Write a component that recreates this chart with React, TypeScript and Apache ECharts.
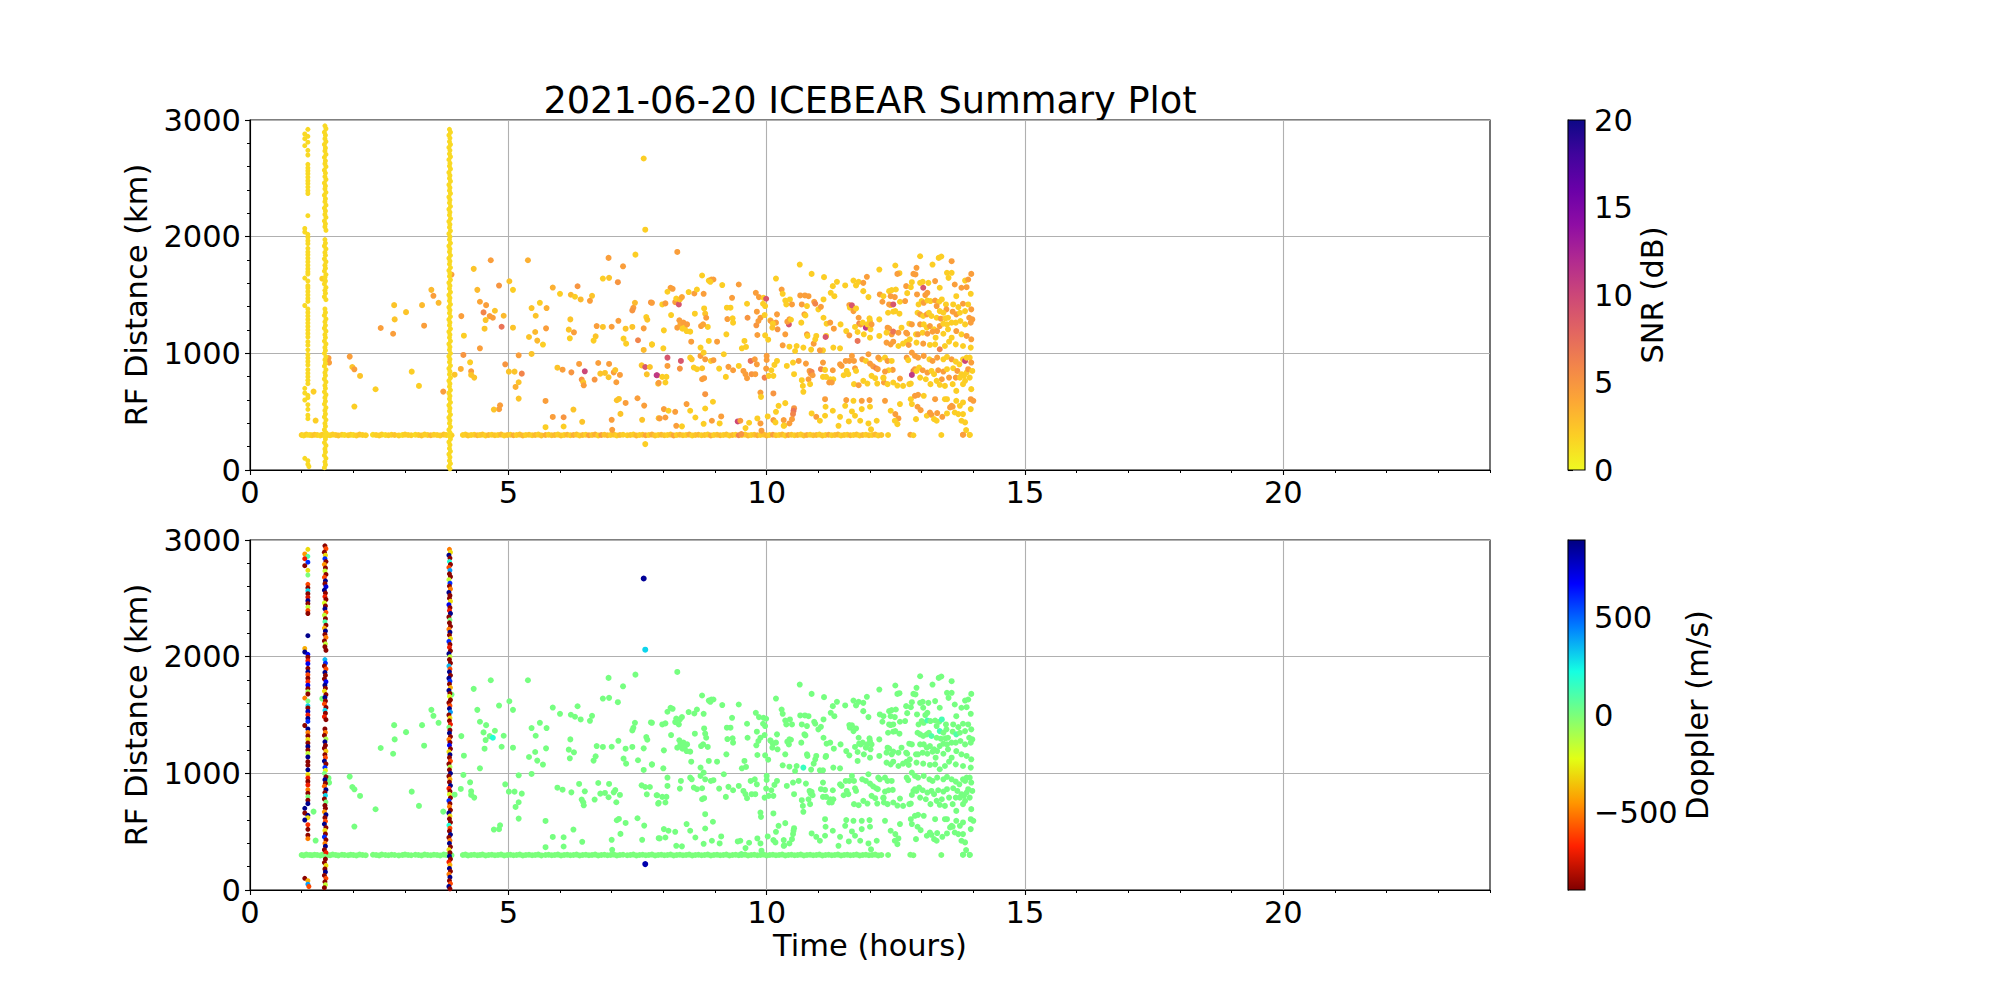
import React, { useEffect, useRef } from 'react';
import * as echarts from 'echarts';

const TITLE = '2021-06-20 ICEBEAR Summary Plot';
const X_LABEL = 'Time (hours)';
const Y_LABEL = 'RF Distance (km)';
const SNR_LABEL = 'SNR (dB)';
const DOP_LABEL = 'Doppler (m/s)';
const X_MAJOR_TICKS = [0, 5, 10, 15, 20];
const SNR_RANGE = [0, 20];
const DOP_RANGE = [-900, 900];
const DOP_TICKS = [-500, 0, 500];

// matplotlib plasma_r (0 -> 20 dB)
const PLASMA_R = ['#f0f921', '#fcce25', '#fca636', '#f2844b', '#e16462', '#cc4778', '#b12a90', '#8f0da4', '#6a00a8', '#41049d', '#0d0887'];
// matplotlib jet_r (-900 -> +900 m/s)
const JET_R = ['#800000', '#ff2100', '#ff9700', '#e2ff15', '#7bff7b', '#15ffe2', '#0080ff', '#0000ff', '#000080'];

const LINE_DOPPLER = 0;
const CLOUD_DOPPLER = 10;
const VERT_SNR = 1.5;

// ~300 km echo line: [time h, distance km, snr dB]
const LINE_300: number[][] = [
  [1.00,300,2],[1.04,296,1.5],[1.09,304,2],[1.16,300,1.5],[1.20,298,2],[1.25,302,2.5],[1.30,300,2],[1.36,296,1.5],
  [1.40,302,2],[1.50,300,2],[1.55,298,1.5],[1.60,304,2],[1.66,300,2],[1.71,296,2.5],[1.78,302,2],[1.83,300,1.5],
  [1.90,298,2],[1.95,302,2],[2.00,300,1.5],[2.06,296,2],[2.12,304,2.5],[2.18,300,2],[2.24,298,2],[2.38,302,1.5],
  [2.44,300,2],[2.50,296,2],[2.55,304,2],[2.62,300,1.5],[2.68,298,2],[2.74,302,2],[2.80,300,2.5],[2.88,296,2],
  [2.95,300,1.5],[3.00,304,2],[3.06,300,2],[3.12,298,2],[3.20,302,1.5],[3.26,300,2],[3.32,296,2.5],[3.38,304,2],
  [3.44,300,2],[3.50,298,3],[3.56,302,2],[3.62,300,2],[3.68,296,2],[3.75,304,2.5],[3.80,300,2],[3.90,298,2],
  [4.12,300,2],[4.17,304,2],[4.22,296,2.5],[4.28,300,2],[4.34,302,2],[4.40,298,3],[4.45,300,2],[4.50,304,2.5],
  [4.56,296,2],[4.62,300,3],[4.68,302,2],[4.74,298,2.5],[4.80,300,2],[4.86,304,3],[4.92,296,2],[4.98,300,2.5],
  [5.04,302,2],[5.10,298,3.5],[5.16,300,2],[5.22,304,2.5],[5.28,296,3],[5.34,300,2],[5.40,302,2.5],[5.46,298,2],
  [5.52,300,3],[5.58,304,2],[5.64,296,2.5],[5.72,300,3.5],[5.78,302,2],[5.84,298,2.5],[5.90,300,3],[5.96,304,2],
  [6.02,296,2.5],[6.08,300,2],[6.14,302,3],[6.20,298,2],[6.26,300,3.5],[6.32,304,2.5],[6.38,296,2],[6.44,300,3],
  [6.50,302,2],[6.56,298,4],[6.62,300,2.5],[6.68,304,3.5],[6.74,296,2],[6.80,300,4.5],[6.86,302,2.5],[6.92,298,3],
  [6.98,300,2],[7.04,304,2.5],[7.10,296,2],[7.16,300,3],[7.22,302,2],[7.30,298,2],[7.36,300,2.5],[7.42,304,2],
  [7.48,296,3],[7.54,300,2],[7.60,302,2.5],[7.66,298,4],[7.72,300,2],[7.78,304,3.5],[7.84,296,2.5],[7.90,300,2],
  [7.96,302,3],[8.02,298,2.5],[8.08,300,2],[8.14,304,2.5],[8.20,296,4],[8.26,300,2],[8.32,302,3],[8.38,298,2.5],
  [8.44,300,2],[8.50,304,3.5],[8.56,296,2],[8.62,300,2.5],[8.68,302,3],[8.74,298,2],[8.80,300,2.5],[8.86,304,2],
  [8.92,296,3.5],[8.98,300,2],[9.04,302,2.5],[9.10,298,3],[9.16,300,2],[9.22,304,2.5],[9.28,296,2],[9.34,300,3],
  [9.40,302,2],[9.46,298,6],[9.52,300,2.5],[9.58,304,2],[9.64,296,3],[9.70,300,2],[9.76,302,2.5],[9.82,298,3.5],
  [9.88,300,2],[9.94,304,2.5],[10.00,296,3],[10.06,300,2],[10.12,302,4.5],[10.18,298,2.5],[10.24,300,2],[10.30,304,3],
  [10.36,296,2],[10.42,300,4],[10.48,302,2.5],[10.54,298,2],[10.60,300,3],[10.66,304,2],[10.72,296,2.5],[10.78,300,3.5],
  [10.84,302,2],[10.90,298,2.5],[10.96,300,3],[11.02,304,2],[11.08,296,2.5],[11.14,300,2],[11.20,302,3.5],[11.26,298,2],
  [11.32,300,2.5],[11.38,304,3],[11.44,296,2],[11.50,300,2.5],[11.56,302,2],[11.62,298,3],[11.68,300,2],[11.74,304,2.5],
  [11.80,296,2],[11.86,300,3],[11.92,302,2],[11.98,298,2.5],[12.04,300,2],[12.10,304,3],[12.16,296,2],[12.22,300,2.5],
  [12.35,300,2],[12.78,302,4],[12.84,298,2],[13.38,300,2],[13.80,302,4.5],[13.93,300,2]
];

// scattered echoes: [time h, distance km, snr dB, doppler m/s (optional)]
const CLOUD: number[][] = [
  [1.23,672,2],[1.27,424,2],[1.40,1640,2],[1.52,960,4.5],[1.53,920,4.5],
  [7.46,1846,2],[4.66,1798,4.5],[5.38,1798,3.5],[6.94,1818,4.5],[7.22,1746,4.5],[4.33,1724,2.5],[3.90,1675,4.5],[6.83,1641,2],
  [6.95,1647,2.5],[7.12,1610,5],[5.02,1618,2.5],[4.82,1581,5],[5.09,1544,2],[4.40,1544,3],[3.51,1544,3],[3.55,1493,4.5],
  [5.86,1564,3.5],[6.34,1575,5],[6.00,1510,2],[6.21,1502,3],[6.29,1485,2],[6.40,1462,3],[6.62,1493,2.5],[6.58,1450,4.5],
  [2.79,1413,2.5],[3.33,1413,3],[3.65,1433,3],[3.02,1353,2.5],[4.45,1442,4],[4.57,1413,4.5],[4.74,1365,2.5],[4.52,1351,6],
  [4.64,1319,4.5],[4.70,1305,4.5,200],[4.91,1322,3],[4.56,1285,2.5],[5.45,1388,2.5],[5.61,1433,2],[5.74,1388,3.5],[5.53,1322,2.5],
  [6.20,1291,2.5],[7.45,1433,3],[7.42,1390,4.5],[7.40,1368,5],[7.76,1436,5],[7.67,1311,2],[7.69,1288,2.5],[7.13,1279,4.5],
  [2.53,1217,4.5],[2.80,1291,2.5],[2.77,1168,4.5],[3.37,1237,4.5],[4.09,1319,4.5],[4.14,1151,2],[4.54,1211,2.5],[4.87,1228,7],
  [5.09,1220,2.5],[5.52,1183,3],[5.73,1214,4.5],[5.40,1140,2.5],[5.56,1109,3],[5.67,1075,2],[6.17,1203,2.5],[6.27,1180,4.5],
  [6.19,1129,2],[6.71,1234,4.5],[6.83,1226,2.5],[7.00,1228,4.5],[6.69,1146,2.5],[6.65,1109,2],[7.23,1126,2],[7.28,1083,2],
  [7.51,1112,6],[7.27,1211,2.5],[7.40,1226,2.5],[7.62,1214,4.5],[7.62,1029,3],[7.78,1075,3],[4.45,1043,4.5],[1.93,972,4.5],
  [1.98,883,2.5],[2.02,863,4.5],[2.13,806,2.5],[2.43,692,2],[3.13,843,2],[3.27,721,2],[2.02,544,2],[3.74,672,4.5],
  [3.96,817,2.5],[4.08,866,3.5],[4.13,986,5],[4.26,923,2],[4.28,846,4.5],[4.28,815,2.5],[4.34,792,2.5],[4.94,906,5],
  [5.01,843,2.5],[5.12,843,2.5],[5.26,826,6],[5.20,983,4.5],[5.45,995,2.5],[5.20,752,2.5],[5.14,712,3.5],[5.20,612,2.5],
  [4.84,555,4.5],[4.82,521,4.5],[4.72,518,2.5],[5.72,592,4.5],[5.72,367,2],[5.86,455,4.5],[6.07,452,5],[6.07,373,2],
  [5.95,877,2.5],[6.05,860,4.5],[6.22,837,5],[6.37,909,4.5],[6.48,846,10],[6.42,775,5],[6.45,752,2.5],[6.46,726,4.5],
  [6.67,775,5],[6.74,917,4.5],[6.78,826,2.5],[6.87,832,2.5],[6.95,909,4.5],[6.94,795,2.5],[7.04,837,4.5],[7.07,857,2.5],
  [7.16,815,4.5],[7.09,752,4.5],[7.27,575,4.5],[7.10,598,2.5],[7.14,609,2.5],[7.50,615,4.5],[7.63,552,4.5],[7.58,897,2.5],
  [7.65,883,9],[7.74,883,2.5],[7.68,820,2.5],[7.88,812,9],[7.90,740,2.5],[6.26,518,2.5],[6.43,413,2.5],[7.00,430,4.5],
  [7.17,481,2.5],[7.01,344,4.5],[7.59,430,2.5],[7.91,444,2.5],
  [7.78,1433,4.5],[7.78,1077,2],[7.98,1419,2],[8.04,1428,4.5],[8.01,1197,2],[8.00,1043,2],[8.08,963,9],[8.08,892,4.5],
  [8.15,1328,2],[8.14,1562,4.5],[8.18,1553,4.5],[8.08,1528,2],[8.27,1869,4.5],[8.23,1439,4.5],[8.30,1419,9],[8.25,1470,2],
  [8.32,1462,2.5],[8.36,1482,4],[8.27,1220,4.5],[8.31,1283,4.5],[8.33,1248,4],[8.37,1211,2],[8.39,1263,4.5],[8.34,935,9],
  [8.32,869,5],[7.87,812,11],[7.98,798,2],[8.06,798,2],[8.04,750,2],[7.91,747,4.5],[8.01,522,4.5],[8.10,508,2],
  [8.23,499,4.5],[7.93,442,4.5],[8.04,450,4.5],[8.25,379,4.5],[8.36,374,2],
  [8.41,1220,2],[8.46,1248,4.5],[8.45,1191,2],[8.52,1186,2],[8.49,1525,2],[8.60,1513,4.5],[8.65,1547,2],[8.78,1510,4.5],
  [8.75,1667,2],[8.88,1624,2],[8.93,1633,4],[8.97,1633,4.5],[8.91,1613,2],[8.61,1340,2],[8.79,1385,2],[8.81,1340,2.5],
  [8.83,1305,4.5],[8.86,1226,2],[8.73,1234,4.5],[8.77,1248,4],[8.72,1049,2],[8.88,1106,2],[8.54,1100,4.5],[8.52,963,2],
  [8.55,949,2.5],[8.72,978,4.5],[8.78,1006,2],[8.81,949,4.5],[8.92,935,2],[8.97,941,4.5],[8.59,878,2],[8.65,864,2],
  [8.75,872,2.5],[8.75,778,4.5],[8.79,787,4.5],[8.81,650,5],[8.96,585,2],[8.45,565,4.5],[8.52,508,2],[8.62,450,2],
  [8.94,422,4.5],[8.81,527,2],[8.78,396,2],[9.04,1100,4.5],
  [9.14,1585,2],[9.23,1391,2],[9.30,1391,2],[9.33,1476,4.5],[9.24,1294,4.5],[9.34,1300,2],[9.35,1263,2],[9.22,1163,2],
  [9.46,1590,4.5],[9.62,1425,2],[9.63,1305,5],[9.57,1106,2],[9.60,1055,2],[9.52,1043,2],[9.17,992,2],[9.26,884,4.5],
  [9.35,855,4.5],[9.08,869,2],[9.21,798,2],[9.46,892,2],[9.55,849,4.5],[9.59,821,4.5],[9.69,935,7],[9.77,949,4.5],
  [9.81,906,4.5],[9.71,821,5],[9.78,821,4.5],[9.62,787,4.5],[9.12,459,4.5],[9.09,399,2],[9.44,416,10],[9.49,422,4.5],
  [9.51,308,5],[9.66,405,2],[9.59,359,2],
  [9.79,1519,4.5],[9.85,1482,4.5],[9.94,1476,2],[9.99,1468,9],[9.93,1425,2],[9.97,1405,2],[9.81,1357,4.5],[9.88,1305,4.5],
  [9.80,1240,5],[9.84,1277,4.5],[9.82,1157,4.5],[9.97,1154,2],[9.96,1328,2],[10.03,1117,2],[10.07,1283,2],[10.08,1277,4.5],
  [10.20,1334,4.5],[10.18,1263,4.5],[10.21,1206,5],[10.12,1254,2],[10.11,1220,2.5],[10.18,1641,2],[10.29,1547,4.5],[10.31,1510,2],
  [10.36,1453,2],[10.38,1419,2],[10.36,1163,4.5],[10.31,1069,4.5],[10.20,935,2],[10.15,901,2],[10.09,855,2],[10.00,978,4.5],
  [10.00,943,4.5],[9.99,869,4.5],[9.96,792,6],[10.04,807,2],[10.13,807,2],[9.88,664,4.5],[9.89,627,2],[10.13,656,5],
  [10.23,550,2],[10.18,499,2],[10.02,459,2],[9.82,442,2],[9.88,399,4.5],[10.13,428,4.5],[10.17,408,2],[10.33,428,4.5],
  [10.34,382,2],[9.90,337,4.5],
  [10.45,1462,2],[10.49,1419,4.5],[10.64,1761,2],[10.65,1496,4.5],[10.74,1496,4.5],[10.81,1490,4.5],[10.68,1419,4.5],[10.78,1405,2],
  [10.44,1291,4.5],[10.43,1248,9],[10.40,1271,4.5],[10.47,1288,2],[10.67,1263,2],[10.73,1334,4.5],[10.75,1325,2],[10.78,1163,4.5],
  [10.79,1149,2],[10.87,1681,2],[10.96,1149,2],[10.91,1083,4.5],[10.94,1120,2],[10.92,1442,4.5],[10.94,1425,6],[10.44,1057,2],
  [10.58,1063,2],[10.55,1020,2],[10.71,1049,2,150],[10.86,1032,2],[10.39,892,2],[10.51,921,2],[10.62,935,4.5],[10.76,912,4.5],
  [10.53,821,2],[10.68,770,2],[10.70,721,2],[10.83,849,4.5],[10.85,827,4.5],[10.87,841,6],[10.89,812,4.5],[10.81,778,4.5],
  [10.84,736,2],[10.71,670,2],[10.36,573,2],[10.53,530,5],[10.52,508,7],[10.51,479,6],[10.49,436,4.5],[10.44,399,4.5],
  [10.33,379,2],[10.87,485,2],[10.96,456,4.5],
  [11.00,1377,2],[11.10,1462,2],[11.05,1399,4.5],[11.11,1653,2],[11.24,1519,2],[11.28,1576,2],[11.31,1490,2],[11.36,1613,2],
  [11.10,1305,2],[11.16,1254,2],[11.23,1263,4.5],[11.15,1149,2],[11.14,1140,9],[11.30,1211,4.5],[11.09,1026,2],[11.29,1049,2],
  [11.42,1043,2],[11.03,1026,4.5],[11.05,864,6],[11.13,858,2],[11.28,855,4.5],[11.09,798,2],[11.15,798,2],[11.23,778,2],
  [11.29,778,2],[11.21,750,4.5],[11.26,750,4.5],[11.09,921,4.5],[11.43,1248,2],[11.54,1191,2],[11.52,1582,2],[11.60,1414,4.5],
  [11.61,1391,2],[11.60,1154,4.5],[11.53,935,4.5],[11.60,935,4.5],[11.55,849,2],[11.58,821,2],[11.49,812,2],[11.42,906,4.5],
  [11.45,892,4.5],[11.13,607,4.5],[11.14,542,2],[11.28,508,2],[11.42,456,2],[11.54,599,4.5],[11.52,550,2],[11.59,416,2],
  [11.39,379,2],[11.13,465,2],[11.03,422,2],
  [11.65,1411,9],[11.68,1362,4.5],[11.73,1385,2],[11.78,1305,4.5],[11.79,1254,6],[11.71,1226,2],[11.82,1248,4.5],[11.86,1263,2],
  [11.76,1183,2],[11.76,1106,7],[11.68,1624,2],[11.73,1582,2],[11.78,1613,2],[11.87,1604,4.5],[11.94,1656,4.5],[11.87,1533,2],
  [11.97,1482,2],[11.88,1163,2],[11.92,1220,11],[11.95,1248,2],[12.00,1277,2],[11.99,1300,2],[12.01,1206,2],[12.03,1248,4.5],
  [12.18,1291,2],[12.19,1505,4.5],[12.26,1490,2],[12.24,1442,4.5],[12.00,1134,2],[12.18,1149,2],[11.65,978,4.5],[11.69,935,4.5],
  [11.71,872,4.5],[11.73,849,2],[11.85,949,4.5],[11.92,935,2],[11.97,992,4.5],[12.00,912,4.5],[12.06,889,4.5],[12.12,872,6],
  [12.15,864,4.5],[12.19,949,2],[12.16,963,4.5],[12.03,807,2],[12.10,787,2],[11.87,764,2],[11.95,741,2],[11.69,736,2],
  [11.78,727,4.5],[12.14,741,2],[12.26,792,2],[12.27,750,4.5],[11.68,593,2],[11.84,593,4.5],[11.99,599,4.5],[12.00,542,2],
  [11.84,522,2],[11.71,465,2],[11.81,422,2],[11.65,502,2],[12.13,422,2],[12.02,348,2],[11.97,399,2],
  [12.18,1718,2],[12.37,1533,2],[12.42,1542,2],[12.50,1547,2],[12.49,1753,2],[12.57,1687,2],[12.53,1681,4.5],[12.40,1490,4.5],
  [12.48,1482,4.5],[12.40,1414,2],[12.37,1419,4.5],[12.45,1419,9],[12.35,1348,2],[12.45,1357,2],[12.49,1362,2],[12.57,1340,2],
  [12.58,1442,2],[12.68,1448,4.5],[12.70,1576,4.5],[12.79,1567,2],[12.72,1516,2],[12.81,1610,2],[12.88,1676,4.5],[12.84,1681,4.5],
  [12.90,1733,4.5],[12.97,1832,2],[12.34,1220,4.5],[12.37,1211,4.5],[12.42,1163,4.5],[12.45,1186,7],[12.32,1177,2],[12.55,1177,4.5],
  [12.61,1220,2],[12.70,1177,4.5],[12.72,1168,4.5],[12.76,1254,2],[12.81,1248,4.5],[12.32,1092,4.5],[12.40,1077,4.5],[12.45,1100,4.5],
  [12.55,1063,2],[12.64,1083,2],[12.71,1100,2],[12.75,1072,4.5],[12.77,1120,2],[12.89,1163,2],[12.29,963,2],[12.34,935,4.5],
  [12.42,935,2],[12.44,858,4.5],[12.36,855,2],[12.29,844,4.5],[12.26,787,2],[12.34,736,2],[12.45,750,2],[12.53,724,2],
  [12.58,784,4.5],[12.71,963,4.5],[12.74,941,2],[12.81,1006,4.5],[12.87,978,4.5],[12.84,849,6],[12.87,864,4.5],[12.81,815,11],
  [12.90,849,2],[12.79,741,2],[12.76,736,2],[12.64,721,2],[12.29,593,4.5],[12.40,508,2],[12.58,565,2],[12.79,607,2],
  [12.81,565,2],[12.87,636,4.5],[12.49,479,4.5],[12.55,442,4.5],[12.53,393,2],[12.89,436,2],[12.48,422,2],
  [12.91,1505,4.5],[12.97,1604,2],[13.02,1613,2],[13.03,1562,9],[13.07,1499,4.5],[13.11,1519,4.5],[13.13,1604,2],[13.21,1761,2],
  [13.26,1619,4.5],[13.33,1818,2],[13.38,1830,2],[13.35,1562,2],[13.49,1690,2],[13.52,1647,2],[13.58,1790,4.5],[12.94,1419,2],
  [13.00,1448,2],[13.04,1433,4.5],[13.11,1453,2,120],[13.17,1448,2],[13.26,1453,4.5],[13.34,1442,2],[13.39,1462,2,120],[13.47,1419,2],
  [13.48,1377,4.5],[13.29,1405,4.5],[13.35,1362,2,120],[13.42,1348,2],[12.92,1348,2],[12.97,1334,4.5],[13.03,1320,2],[13.10,1334,4.5],
  [13.14,1348,2],[13.19,1320,2,100],[13.29,1305,2],[13.37,1297,4.5],[13.46,1300,2],[13.51,1305,2],[12.97,1248,4.5],[13.04,1248,2],
  [13.10,1220,2],[13.16,1234,4.5],[13.24,1206,2],[13.30,1191,4.5],[13.35,1234,4.5],[13.42,1254,2],[13.49,1248,2],[12.93,1163,4.5],
  [13.02,1177,2],[13.11,1168,4.5],[13.21,1186,4.5],[13.27,1134,2],[13.42,1168,2],[13.51,1206,2],[12.90,1092,2],[13.03,1083,4.5],
  [13.16,1072,2],[13.26,1077,2],[13.35,1035,6],[13.45,1063,2],[13.53,1100,2],[12.93,963,4.5],[13.04,978,4.5],[13.15,949,2],
  [13.21,935,4.5],[13.30,963,4.5],[13.42,949,2],[13.49,969,2],[12.95,878,2],[13.02,855,4.5],[13.11,835,4.5],[13.19,849,2],
  [13.24,821,2],[13.32,855,4.5],[13.39,778,4.5],[13.42,844,4.5],[13.49,864,2],[12.97,792,2],[13.08,778,2],[13.17,736,2],
  [13.29,764,2],[13.35,730,2],[13.45,721,2],[13.53,792,4.5],[12.93,644,4.5],[13.04,636,2],[13.26,607,4.5],[13.45,607,2],
  [13.49,607,2],[12.92,542,4.5],[12.98,513,4.5],[13.10,465,2],[13.16,493,4.5],[13.19,473,4.5],[13.30,488,4.5],[13.24,436,2],
  [13.40,456,4.5],[13.49,485,2],[13.55,536,4.5],[13.29,422,2],[13.58,550,4.5],
  [13.58,1690,2],[13.64,1590,4.5],[13.67,1490,2],[13.77,1562,4.5],[13.84,1624,2],[13.87,1567,4.5],[13.90,1633,4.5],[13.96,1681,4.5],
  [13.95,1510,2],[13.61,1419,2],[13.71,1396,2],[13.80,1425,4.5],[13.90,1419,2],[13.96,1377,4.5],[13.60,1357,4.5],[13.67,1334,4.5,100],
  [13.74,1348,2],[13.84,1362,2],[13.92,1305,4.5],[13.98,1291,4.5],[13.58,1263,2],[13.66,1263,2],[13.75,1277,2],[13.84,1248,2],
  [13.95,1263,4.5],[13.67,1191,4.5],[13.77,1163,2],[13.87,1149,4.5],[13.96,1120,4.5],[13.58,1134,2],[13.66,1077,2],[13.80,1063,2],
  [13.95,1049,2],[13.58,949,4.5],[13.66,929,2],[13.73,906,2],[13.80,949,2],[13.84,935,10],[13.87,963,2],[13.93,963,2],
  [13.96,921,4.5],[13.61,872,2],[13.69,849,4.5],[13.77,821,2],[13.82,807,2],[13.87,835,2],[13.90,864,4.5],[13.98,849,2],
  [13.66,792,4.5],[13.74,792,2],[13.84,764,2],[13.93,792,2],[13.60,736,2],[13.67,678,2],[13.80,736,2],[13.96,693,2],
  [13.67,593,2],[13.80,579,2],[13.95,607,4.5],[14.00,593,4.5],[13.60,542,4.5],[13.74,550,2],[13.64,493,2],[13.71,479,2],
  [13.80,479,2],[13.95,522,2],[13.77,422,2],[13.84,408,2],[13.86,342,2],[13.80,302,4.5],[13.93,302,2]
];

// isolated echoes at ~7.6 h: [time h, distance km, snr dB, doppler m/s]
const OUTLIERS: number[][] = [[7.62, 2670, 2, 860], [7.65, 2060, 2, 300], [7.65, 222, 2, 820]];

// vertical streak 1 (~1.1 h): [time h, distance km, doppler m/s]
const VL1: number[][] = [
  [1.12,2920,-300],[1.06,2880,-450],[1.12,2860,100],[1.06,2840,-700],[1.12,2810,600],[1.06,2780,-880],[1.12,2740,-300],[1.12,2700,0],
  [1.12,2620,-600],[1.12,2590,-880],[1.12,2565,300],[1.12,2540,-880],[1.12,2510,-750],[1.12,2480,880],[1.12,2455,-880],[1.12,2425,-150],
  [1.12,2395,-600],[1.12,2370,-880],[1.12,2180,880],[1.06,2070,-400],[1.06,2040,880],[1.12,2020,700],[1.12,1995,-880],[1.12,1965,-700],
  [1.12,1940,700],[1.12,1900,-880],[1.12,1870,880],[1.12,1845,-600],[1.12,1815,-880],[1.12,1785,-650],[1.12,1755,700],[1.12,1725,-880],
  [1.12,1700,-100],[1.12,1680,-880],[1.06,1645,-500],[1.12,1620,0],[1.12,1580,300],[1.12,1560,-880],[1.12,1530,800],[1.12,1500,-700],
  [1.12,1470,880],[1.12,1445,600],[1.06,1410,-880],[1.12,1380,880],[1.12,1350,-500],[1.12,1320,-880],[1.12,1290,-300],[1.12,1260,-880],
  [1.12,1230,880],[1.12,1200,-880],[1.12,1170,-150],[1.12,1140,880],[1.12,1100,-880],[1.12,1070,-880],[1.12,1030,880],[1.12,990,-300],
  [1.12,960,-700],[1.12,930,-880],[1.12,900,-700],[1.12,860,-500],[1.12,830,-880],[1.12,800,0],[1.12,770,-880],[1.12,740,880],
  [1.06,700,880],[1.06,660,-880],[1.12,640,880],[1.12,620,-300],[1.06,600,880],[1.12,560,-650],[1.12,520,-880],[1.12,470,-880],
  [1.12,440,-500],[1.12,300,0],[1.06,100,-880],[1.12,80,-400],[1.12,50,400],[1.14,30,-600]
];

// vertical streak 2 (~1.45 h): [time h, distance km, doppler m/s]
const VL2: number[][] = [
  [1.45,2950,-880],[1.47,2925,-600],[1.44,2895,-880],[1.46,2870,-300],[1.45,2840,600],[1.47,2815,-880],[1.44,2790,-450],[1.46,2760,-880],
  [1.45,2735,-150],[1.47,2705,-880],[1.44,2680,-600],[1.46,2650,880],[1.45,2625,-880],[1.47,2600,750],[1.44,2570,880],[1.46,2545,-880],
  [1.45,2515,-700],[1.47,2490,-880],[1.44,2460,-200],[1.46,2435,-880],[1.45,2410,880],[1.47,2380,-600],[1.44,2355,-150],[1.46,2325,-880],
  [1.45,2300,100],[1.47,2270,-880],[1.44,2245,-400],[1.46,2220,880],[1.45,2190,-880],[1.47,2165,-500],[1.44,2135,-880],[1.46,2110,-150],
  [1.45,2085,-880],[1.47,2055,-880],[1.45,1975,350],[1.46,1945,600],[1.44,1920,-880],[1.47,1895,-600],[1.45,1865,880],[1.46,1840,-880],
  [1.44,1810,-880],[1.47,1785,700],[1.45,1755,880],[1.46,1730,-880],[1.44,1705,-300],[1.47,1675,-880],[1.45,1650,880],[1.46,1620,-880],
  [1.44,1595,-600],[1.47,1565,-880],[1.45,1540,300],[1.46,1515,-880],[1.44,1485,-700],[1.47,1460,-880],[1.45,1380,-880],[1.46,1350,-500],
  [1.44,1325,-880],[1.47,1295,-100],[1.45,1270,880],[1.46,1240,-880],[1.44,1215,-880],[1.47,1190,-350],[1.45,1160,-880],[1.46,1135,-600],
  [1.44,1105,880],[1.47,1080,-880],[1.45,1050,600],[1.46,1025,-250],[1.44,1000,0],[1.47,970,-880],[1.45,945,880],[1.46,915,-880],
  [1.44,890,-550],[1.47,860,880],[1.45,835,-880],[1.46,810,300],[1.44,780,-880],[1.47,755,0],[1.45,725,-880],[1.46,700,-880],
  [1.44,670,-450],[1.47,645,880],[1.45,620,-880],[1.46,590,-600],[1.44,565,880],[1.47,535,-880],[1.45,510,-300],[1.46,480,-880],
  [1.44,455,600],[1.47,430,-880],[1.45,400,-500],[1.46,375,880],[1.44,345,-880],[1.47,320,-700],[1.45,290,0],[1.46,265,-880],
  [1.44,235,-880],[1.47,210,-300],[1.45,180,-880],[1.46,155,880],[1.44,125,-880],[1.47,100,-600],[1.45,70,-880],[1.46,45,-150],
  [1.44,20,-880]
];

// vertical streak 3 (~3.86 h): [time h, distance km, doppler m/s]
const VL3: number[][] = [
  [3.86,2920,-500],[3.88,2895,-300],[3.85,2870,880],[3.87,2845,-880],[3.86,2815,200],[3.88,2790,-880],[3.85,2765,-600],[3.87,2740,400],
  [3.86,2710,-880],[3.88,2685,-880],[3.85,2660,-150],[3.87,2630,600],[3.86,2605,-880],[3.88,2580,-500],[3.85,2550,880],[3.87,2525,-880],
  [3.86,2500,-880],[3.88,2475,-300],[3.85,2445,700],[3.87,2420,-880],[3.86,2395,-700],[3.88,2370,880],[3.85,2340,-880],[3.87,2315,0],
  [3.86,2290,-880],[3.88,2260,-880],[3.85,2235,-500],[3.87,2210,880],[3.86,2185,-880],[3.88,2155,-300],[3.85,2130,600],[3.87,2105,-880],
  [3.86,2080,-700],[3.88,2050,-880],[3.85,2025,880],[3.87,2000,-150],[3.86,1975,-880],[3.88,1945,-880],[3.85,1920,350],[3.87,1895,-600],
  [3.86,1870,880],[3.88,1840,-880],[3.85,1815,880],[3.87,1790,600],[3.86,1765,-880],[3.88,1735,-400],[3.85,1710,880],[3.87,1685,-880],
  [3.86,1660,-200],[3.88,1630,-880],[3.85,1605,-880],[3.87,1580,-600],[3.86,1555,880],[3.88,1525,400],[3.85,1500,-880],[3.87,1475,-300],
  [3.86,1450,-880],[3.88,1420,-700],[3.85,1395,0],[3.87,1370,-880],[3.86,1345,880],[3.88,1315,-880],[3.85,1290,-500],[3.87,1265,-880],
  [3.86,1240,700],[3.88,1210,-880],[3.85,1185,-300],[3.87,1160,880],[3.86,1135,-880],[3.88,1105,-600],[3.85,1080,-880],[3.87,1055,-100],
  [3.86,1030,-880],[3.88,1000,880],[3.85,975,-880],[3.87,950,-400],[3.86,925,-880],[3.88,895,880],[3.85,870,-700],[3.87,845,-880],
  [3.86,820,-200],[3.88,790,-880],[3.85,765,600],[3.87,740,-880],[3.86,715,-500],[3.88,685,-880],[3.85,660,880],[3.87,635,-300],
  [3.86,610,-880],[3.88,580,-880],[3.85,555,200],[3.87,530,-600],[3.86,505,-880],[3.88,475,880],[3.85,450,-880],[3.87,425,-500],
  [3.86,400,880],[3.88,370,-880],[3.85,345,-300],[3.87,320,-880],[3.86,290,880],[3.88,265,-880],[3.85,240,-700],[3.87,215,-400],
  [3.86,185,880],[3.88,160,-880],[3.85,135,-500],[3.87,110,880],[3.86,80,-880],[3.88,55,-600],[3.85,30,880],[3.87,10,-880]
];

const FONT = 'DejaVu Sans';
const FS = 30.5;

function App() {
  const ref = useRef<HTMLDivElement>(null);
  useEffect(() => {
    document.body.style.margin = '0';
    if (!ref.current) return;
    const chart = echarts.init(ref.current, null, { renderer: 'svg' });

    const mainPts = [
      ...LINE_300.map((p) => [p[0], p[1], p[2], LINE_DOPPLER]),
      ...CLOUD.map((p) => [p[0], p[1], p[2], p.length > 3 ? p[3] : CLOUD_DOPPLER]),
      ...OUTLIERS,
    ];
    const vertPts = [...VL1, ...VL2, ...VL3].map((p) => [p[0], p[1], VERT_SNR, p[2]]);

    const axisLineStyle = { color: '#000', width: 1.1 };
    const gridLine = { show: true, lineStyle: { color: '#b0b0b0', width: 1.1 } };
    const lbl = { fontSize: FS, color: '#000', fontFamily: FONT };
    const plain = (v: number) => (v < 0 ? '\u2212' + Math.abs(v) : String(v));

    const majorX = (gi: number, withName: boolean) => ({
      type: 'value', gridIndex: gi, min: 0, max: 24, interval: 5, position: 'bottom',
      name: withName ? X_LABEL : '', nameLocation: 'middle', nameGap: 40,
      nameTextStyle: lbl,
      axisLine: { show: true, onZero: false, lineStyle: axisLineStyle },
      axisTick: { show: true, length: 5, lineStyle: axisLineStyle, customValues: X_MAJOR_TICKS },
      axisLabel: { ...lbl, margin: 7, customValues: X_MAJOR_TICKS, formatter: plain },
      splitLine: gridLine,
    });
    const minorX = (gi: number) => ({
      type: 'value', gridIndex: gi, min: 0, max: 24, interval: 1, position: 'bottom',
      axisLine: { show: false }, axisLabel: { show: false }, splitLine: { show: false },
      axisTick: { show: true, length: 3, lineStyle: { color: '#000', width: 1 } },
    });
    const panelY = (gi: number) => ({
      type: 'value', gridIndex: gi, min: 0, max: 3000, interval: 1000,
      name: Y_LABEL, nameLocation: 'middle', nameRotate: 90, nameGap: 47, nameTextStyle: lbl,
      axisLine: { show: true, onZero: false, lineStyle: axisLineStyle },
      axisTick: { show: true, length: 5, lineStyle: axisLineStyle },
      minorTick: { show: true, splitNumber: 5, length: 3, lineStyle: { color: '#000', width: 1 } },
      axisLabel: { ...lbl, margin: 9, formatter: plain },
      splitLine: gridLine,
    });
    const dummyX = (gi: number) => ({ type: 'value', gridIndex: gi, min: 0, max: 1, show: false });

    const barRender = (lo: number, hi: number, colors: string[]) => (params: any, api: any) => {
      const a = api.coord([0, lo]);
      const b = api.coord([1, hi]);
      const shape = { x: a[0], y: b[1], width: b[0] - a[0], height: a[1] - b[1] };
      return {
        type: 'group',
        children: [
          { type: 'rect', shape, style: { fill: new echarts.graphic.LinearGradient(0, 1, 0, 0, colors.map((c, i) => ({ offset: i / (colors.length - 1), color: c }))) } },
          { type: 'rect', shape, style: { fill: 'none', stroke: '#000', lineWidth: 1.1 } },
        ],
      };
    };

    const option: any = {
      animation: false,
      backgroundColor: '#fff',
      textStyle: { fontFamily: FONT },
      graphic: [
        { type: 'text', x: 870, y: 100, style: { text: TITLE, font: `36.7px "${FONT}"`, fill: '#000', align: 'center', verticalAlign: 'middle' } },
      ],
      grid: [
        { left: 250, top: 120, width: 1240, height: 350, show: true, borderColor: '#000', borderWidth: 1.1, backgroundColor: 'transparent' },
        { left: 250, top: 540, width: 1240, height: 350, show: true, borderColor: '#000', borderWidth: 1.1, backgroundColor: 'transparent' },
        { left: 1568, top: 120, width: 17, height: 350 },
        { left: 1568, top: 540, width: 17, height: 350 },
      ],
      xAxis: [majorX(0, false), minorX(0), majorX(1, true), minorX(1), dummyX(2), dummyX(3)],
      yAxis: [
        panelY(0),
        panelY(1),
        {
          type: 'value', gridIndex: 2, min: SNR_RANGE[0], max: SNR_RANGE[1], interval: 5, position: 'right',
          name: SNR_LABEL, nameLocation: 'middle', nameRotate: 90, nameGap: 50, nameTextStyle: lbl,
          axisLine: { show: true, lineStyle: axisLineStyle },
          axisTick: { show: true, length: 5, lineStyle: axisLineStyle },
          axisLabel: { ...lbl, margin: 9, formatter: plain },
          splitLine: { show: false },
        },
        {
          type: 'value', gridIndex: 3, min: DOP_RANGE[0], max: DOP_RANGE[1], position: 'right',
          name: DOP_LABEL, nameLocation: 'middle', nameRotate: 90, nameGap: 93, nameTextStyle: lbl,
          axisLine: { show: true, lineStyle: axisLineStyle },
          axisTick: { show: true, length: 5, lineStyle: axisLineStyle, customValues: DOP_TICKS },
          axisLabel: { ...lbl, margin: 9, customValues: DOP_TICKS, formatter: plain },
          splitLine: { show: false },
        },
      ],
      visualMap: [
        { type: 'continuous', show: false, min: SNR_RANGE[0], max: SNR_RANGE[1], dimension: 2, seriesIndex: [0, 1], inRange: { color: PLASMA_R } },
        { type: 'continuous', show: false, min: DOP_RANGE[0], max: DOP_RANGE[1], dimension: 3, seriesIndex: [2, 3], inRange: { color: JET_R } },
      ],
      series: [
        { type: 'scatter', xAxisIndex: 0, yAxisIndex: 0, data: mainPts, symbolSize: 6, itemStyle: { opacity: 1 } },
        { type: 'scatter', xAxisIndex: 0, yAxisIndex: 0, data: vertPts, symbolSize: 5, itemStyle: { opacity: 1 } },
        { type: 'scatter', xAxisIndex: 2, yAxisIndex: 1, data: mainPts, symbolSize: 6, itemStyle: { opacity: 1 } },
        { type: 'scatter', xAxisIndex: 2, yAxisIndex: 1, data: vertPts, symbolSize: 5, itemStyle: { opacity: 1 } },
        { type: 'custom', xAxisIndex: 4, yAxisIndex: 2, data: [[0, 0]], silent: true, renderItem: barRender(SNR_RANGE[0], SNR_RANGE[1], PLASMA_R) },
        { type: 'custom', xAxisIndex: 5, yAxisIndex: 3, data: [[0, 0]], silent: true, renderItem: barRender(DOP_RANGE[0], DOP_RANGE[1], JET_R) },
      ],
    };
    chart.setOption(option);
    return () => chart.dispose();
  }, []);
  return <div ref={ref} style={{ width: 2000, height: 1000 }} />;
}

export default App;
